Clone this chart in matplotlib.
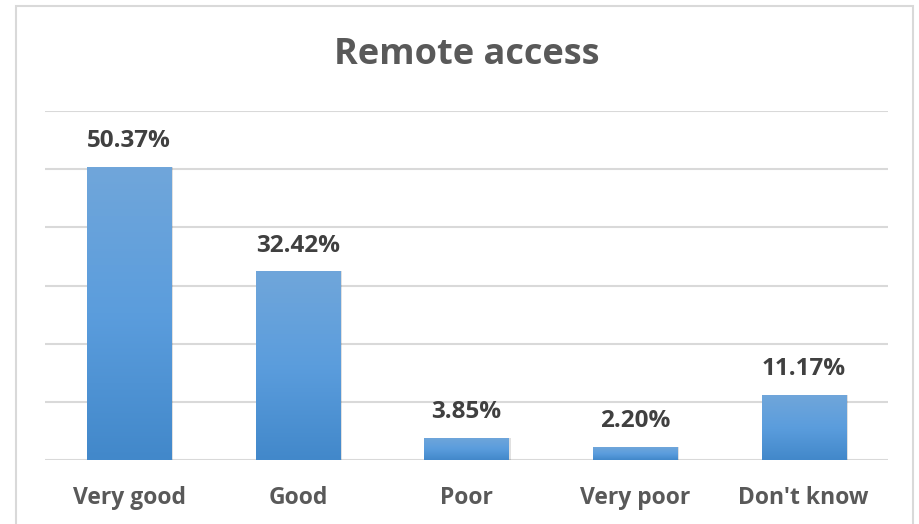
import matplotlib
matplotlib.use("Agg")
import matplotlib.pyplot as plt
import matplotlib.patches as patches
import numpy as np

# data
categories = ["Very good", "Good", "Poor", "Very poor", "Don't know"]
values = [50.37, 32.42, 3.85, 2.20, 11.17]
labels = ["50.37%", "32.42%", "3.85%", "2.20%", "11.17%"]

plt.rcParams['font.family'] = ['Open Sans', 'DejaVu Sans']

fig = plt.figure(figsize=(9.2, 5.24), dpi=100)
ax = fig.add_axes([45/920, 1-460/524, (888-45)/920, (460-111)/524])

x = np.arange(len(categories))
bars = ax.bar(x, values, width=0.5, color="#5b9bd5", zorder=3)

# gradient fill for each bar
grad = np.linspace(0, 1, 256).reshape(-1, 1)
cmap = matplotlib.colors.LinearSegmentedColormap.from_list("g", ["#4288ca", "#5b9ddd", "#70a6da"])
for b in bars:
    x0, w, h = b.get_x(), b.get_width(), b.get_height()
    # soft shadow
    sh = patches.Rectangle((x0 + 0.012, 0), w, h, facecolor="#000000", alpha=0.12,
                           zorder=2, linewidth=0)
    ax.add_patch(sh)
    im = ax.imshow(grad, extent=(x0, x0 + w, 0, h), origin="lower", cmap=cmap,
                   aspect="auto", zorder=4)
    im.set_clip_path(b)

ax.set_xlim(-0.5, len(categories) - 0.5)
ax.set_ylim(0, 60)
ax.set_yticks(np.arange(0, 61, 10))
ax.yaxis.grid(True, color="#d9d9d9", linewidth=1.5, zorder=0)
ax.tick_params(axis="y", left=False, labelleft=False)
ax.tick_params(axis="x", bottom=False, pad=15)
ax.set_xticks(x)
ax.set_xticklabels(categories, fontsize=16.5, fontweight="bold", color="#595959")
for s in ax.spines.values():
    s.set_visible(False)

# value labels
for xi, v, lab in zip(x, values, labels):
    ax.annotate(lab, (xi, v), xytext=(0, 10), textcoords="offset points",
                ha="center", va="bottom", fontsize=17.5, fontweight="bold", color="#404040")

fig.text(467/920, 1-55/524, "Remote access", ha="center", va="center",
         fontsize=26, fontweight="bold", color="#595959")

# chart border
border = patches.Rectangle((16/920, -0.05), (913-16)/920, 1.05 - 6/524, transform=fig.transFigure,
                           fill=False, edgecolor="#d9d9d9", linewidth=1.5)
fig.patches.append(border)

fig.savefig("out.png", dpi=100)
